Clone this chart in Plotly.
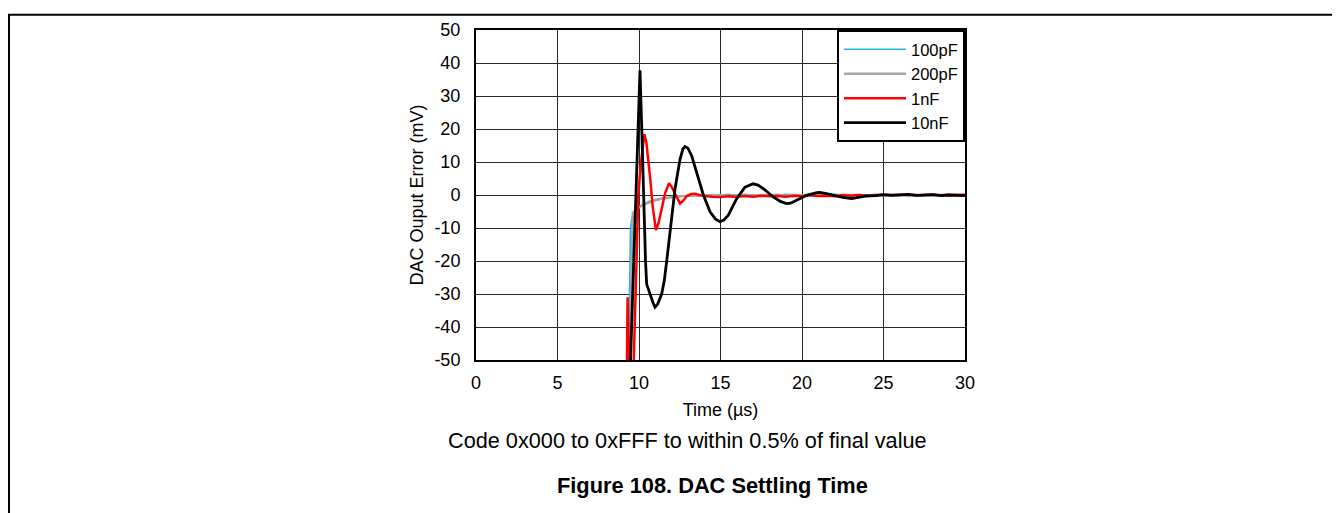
import plotly.graph_objects as go

# ---------------- data ----------------
tail_t = [14.5, 15.0, 15.5, 16.0, 16.5, 17.0, 17.5, 18.0, 18.5, 19.0, 19.5, 20.0,
          20.5, 21.0, 21.5, 22.0, 22.5, 23.0, 23.5, 24.0, 24.5, 25.0, 25.5, 26.0,
          26.5, 27.0, 27.5, 28.0, 28.5, 29.0, 29.5, 30.0]

t_100pf = [9.0, 9.38, 9.42, 9.45, 9.48, 9.55, 9.65, 9.8, 10.0, 10.3, 10.6, 11.0,
           11.5, 12.0, 12.5, 13.0, 13.5, 14.0] + tail_t
v_100pf = [-80, -55, -30, -12, -10, -7.5, -6.0, -4.6, -3.6, -2.7, -2.0, -1.4,
           -0.9, -0.6, -0.4, -0.2, -0.1, 0.0,
           0.1, -0.1, 0.2, -0.2, 0.1, 0.0, -0.2, 0.1, -0.1, 0.2, 0.0, -0.1,
           0.1, -0.2, 0.0, 0.2, -0.1, 0.1, -0.2, 0.0, 0.1, -0.1, 0.2, 0.0,
           -0.1, 0.1, -0.2, 0.1, 0.0, -0.1, 0.1, 0.0]

t_200pf = [9.0, 9.45, 9.52, 9.57, 9.62, 9.7, 9.85, 10.0, 10.3, 10.6, 11.0, 11.5,
           12.0, 12.5, 13.0, 13.5, 14.0] + tail_t
v_200pf = [-80, -55, -30, -8, -5.5, -5.0, -4.3, -3.7, -2.9, -2.3, -1.6, -1.0,
           -0.6, -0.4, -0.3, -0.2, -0.1,
           -0.2, 0.0, -0.3, -0.1, 0.1, -0.2, 0.0, -0.1, 0.1, -0.2, 0.0, -0.1,
           0.1, -0.2, 0.0, -0.1, 0.1, -0.1, 0.0, -0.2, 0.1, -0.1, 0.0, 0.1,
           -0.1, 0.0, -0.2, 0.1, 0.0, -0.1, 0.1, -0.1]

t_1nf = [9.0, 9.25, 9.3, 9.34, 9.38, 9.5, 9.65, 9.8, 9.96, 10.1, 10.22, 10.33,
         10.45, 10.57, 10.67, 10.85, 11.04, 11.2, 11.39, 11.6, 11.84, 12.0, 12.21,
         12.52, 12.75, 12.93, 13.2, 13.44, 13.7, 14.0] + tail_t
v_1nf = [-80, -55, -31, -40, -58, -70, -55, -25, 0.0, 9.0, 15.0, 18.4,
         16.0, 11.0, 5.9, -4.0, -10.6, -8.5, -4.1, 0.5, 3.6, 2.5, 0.4,
         -2.6, -1.5, -0.3, 0.3, 0.4, 0.0, -0.3,
         -0.5, -0.6, -0.4, -0.6, -0.3, -0.5, -0.2, -0.4, -0.3, -0.5, -0.2, -0.4,
         -0.1, -0.3, -0.2, -0.4, -0.1, -0.2, 0.0, -0.2, -0.1, 0.1, -0.1, 0.0,
         0.1, -0.1, 0.0, 0.1, -0.1, 0.1, 0.0, 0.1]

t_10nf = [9.0, 9.45, 9.6, 9.82, 9.95, 10.06, 10.17, 10.27, 10.4, 10.47, 10.6,
          10.7, 10.85, 10.98, 11.15, 11.39, 11.55, 11.7, 11.94, 12.21, 12.52,
          12.7, 12.82, 13.0, 13.23, 13.54, 13.95, 14.36, 14.7, 14.97, 15.2,
          15.48, 15.99, 16.5, 17.01, 17.3, 17.63, 18.24, 18.7, 19.06, 19.3,
          19.67, 20.29, 20.9, 21.1, 21.5, 21.9, 22.5, 23.05, 23.5, 23.97, 24.5,
          25.0, 25.5, 26.0, 26.5, 27.0, 27.5, 28.0, 28.5, 29.0, 29.5, 30.0]
v_10nf = [-80, -55, -32, 0.0, 22.0, 37.8, 20.0, 0.0, -20.0, -27.0, -29.0,
          -30.0, -32.5, -34.0, -33.0, -30.0, -26.0, -20.0, -10.0, 1.9, 10.9,
          14.0, 14.7, 14.2, 11.9, 6.9, 0.0, -5.1, -7.3, -8.1, -7.6,
          -6.1, -1.1, 2.4, 3.4, 3.0, 1.9, -0.6, -2.0, -2.6, -2.5,
          -1.6, -0.1, 0.7, 0.8, 0.4, -0.1, -0.7, -1.1, -0.8, -0.3, -0.2,
          0.1, -0.1, 0.0, 0.2, -0.1, 0.0, 0.1, -0.2, 0.0, -0.1, -0.2]

series_names = ["100pF", "200pF", "1nF", "10nF"]
series_colors = ["#1fb4ea", "#a6a6a6", "#ff0000", "#000000"]
series_widths = [1.6, 2.5, 2.5, 2.8]

x_ticks = [0, 5, 10, 15, 20, 25, 30]
x_ticklabels = ["0", "5", "10", "15", "20", "25", "30"]
y_ticks = [-50, -40, -30, -20, -10, 0, 10, 20, 30, 40, 50]
y_ticklabels = ["-50", "-40", "-30", "-20", "-10", "0", "10", "20", "30", "40", "50"]

x_title = "Time (µs)"
y_title = "DAC Ouput Error (mV)"
caption = "Code 0x000 to 0xFFF to within 0.5% of final value"
fig_title = "Figure 108. DAC Settling Time"

# ---------------- figure ----------------
FONT = "Liberation Sans, Arial, sans-serif"
OFF = 8                       # page body margin of the html page
W, H = 1341 - OFF, 513 - OFF
L, R, T, B = 476, 965, 26, 360   # plot area in window pixels


def px_x(p):
    return (p - L) / (R - L)


def px_y(p):
    return (B - p) / (B - T)


fig = go.Figure()
for name, tt, vv, col, wd in zip(series_names,
                                 [t_100pf, t_200pf, t_1nf, t_10nf],
                                 [v_100pf, v_200pf, v_1nf, v_10nf],
                                 series_colors, series_widths):
    fig.add_trace(go.Scatter(x=tt, y=vv, mode="lines", name=name,
                             line=dict(color=col, width=wd)))

axis_common = dict(showline=True, linecolor="black", linewidth=2, mirror=True,
                   showgrid=True, gridcolor="#2a2a2a", gridwidth=1,
                   zeroline=False, ticks="",
                   tickfont=dict(family=FONT, size=18, color="black"),
                   title_font=dict(family=FONT, size=18, color="black"))

fig.update_xaxes(range=[0, 30], tickvals=x_ticks, ticktext=x_ticklabels,
                 title_text=x_title, ticklabelstandoff=5, title_standoff=12,
                 **axis_common)
fig.update_yaxes(range=[-50, 50], tickvals=y_ticks, ticktext=y_ticklabels,
                 title_text=y_title, ticklabelstandoff=10, title_standoff=6,
                 **axis_common)

fig.update_layout(
    width=W, height=H,
    margin=dict(l=L - OFF, r=W - (R - OFF), t=T - OFF, b=H - (B - OFF), pad=0),
    paper_bgcolor="white", plot_bgcolor="white",
    font=dict(family=FONT, color="black"),
    showlegend=True,
    legend=dict(x=1, y=1, xanchor="right", yanchor="top",
                bgcolor="white", bordercolor="black", borderwidth=2,
                font=dict(family=FONT, size=16.5, color="black"),
                itemwidth=62, tracegroupgap=0),
    annotations=[
        dict(text=caption, xref="paper", yref="paper", x=px_x(687), y=px_y(441),
             xanchor="center", yanchor="middle", showarrow=False,
             font=dict(family=FONT, size=21.7, color="black")),
        dict(text="<b>" + fig_title + "</b>", xref="paper", yref="paper",
             x=px_x(712), y=px_y(487), xanchor="center", yanchor="middle",
             showarrow=False, font=dict(family=FONT, size=21.8, color="black")),
    ],
    shapes=[
        dict(type="line", xref="paper", yref="paper",
             x0=px_x(9), x1=px_x(9), y0=px_y(10.5), y1=px_y(520),
             line=dict(color="black", width=2)),
        dict(type="line", xref="paper", yref="paper",
             x0=px_x(8), x1=px_x(1332), y0=px_y(10.5), y1=px_y(10.5),
             line=dict(color="black", width=2)),
    ],
)

fig.write_html("out.html")
